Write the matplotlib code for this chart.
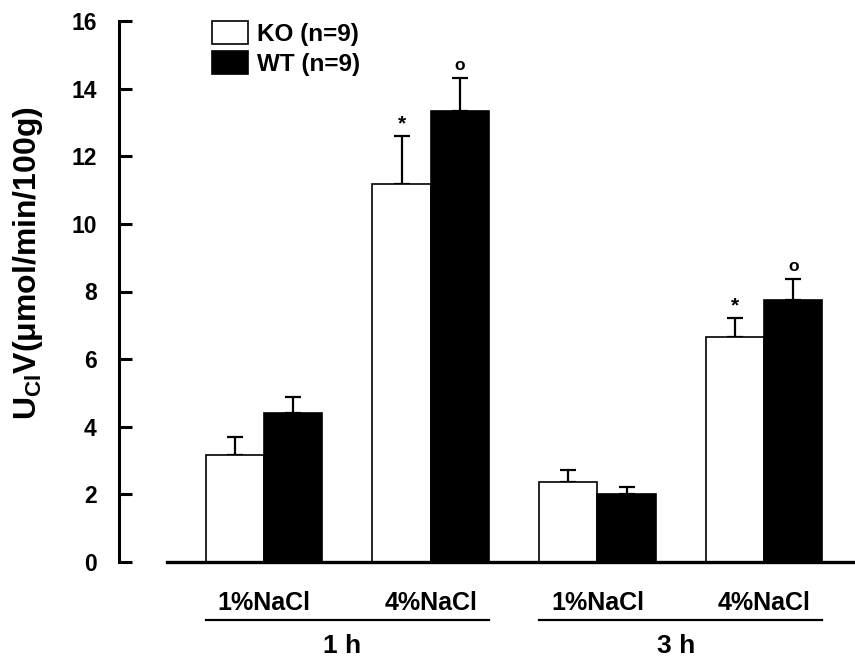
import matplotlib
matplotlib.use("Agg")
import matplotlib.pyplot as plt
from matplotlib.patches import Patch
import numpy as np

plt.rcParams['font.family'] = ['Liberation Sans', 'DejaVu Sans']
plt.rcParams['font.weight'] = 'bold'
plt.rcParams['mathtext.fontset'] = 'custom'
plt.rcParams['mathtext.rm'] = 'Liberation Sans:bold'
plt.rcParams['mathtext.bf'] = 'Liberation Sans:bold'

# ---- data ----
conditions = ['1%NaCl', '4%NaCl', '1%NaCl', '4%NaCl']
time_groups = ['1 h', '3 h']
ko_mean = [3.15, 11.17, 2.37, 6.64]
ko_err = [0.56, 1.42, 0.35, 0.57]
wt_mean = [4.40, 13.34, 2.00, 7.75]
wt_err = [0.49, 0.97, 0.22, 0.61]
ko_marks = ['', '*', '', '*']
wt_marks = ['', 'o', '', 'o']
series_labels = ['KO (n=9)', 'WT (n=9)']

fig = plt.figure(figsize=(8.55, 6.59), dpi=100)
ax = fig.add_axes([119/855, (659-562)/659, (855-119)/855, (562-21)/659])

x = np.arange(len(conditions))
w = 0.35
ax.bar(x - w/2, ko_mean, w, color='white', edgecolor='black', linewidth=1.2, zorder=2)
ax.bar(x + w/2, wt_mean, w, color='black', edgecolor='black', linewidth=1.2, zorder=2)
ax.errorbar(x - w/2, ko_mean, yerr=[np.zeros(4), ko_err], fmt='none', ecolor='black',
            elinewidth=1.6, capsize=6, capthick=1.6, zorder=1)
ax.errorbar(x + w/2, wt_mean, yerr=[np.zeros(4), wt_err], fmt='none', ecolor='black',
            elinewidth=1.6, capsize=6, capthick=1.6, zorder=1)

for xi, m, e, s in zip(x - w/2, ko_mean, ko_err, ko_marks):
    if s:
        ax.annotate(s, (xi, m + e), xytext=(0, 2), textcoords='offset points',
                    ha='center', va='bottom', fontsize=15, fontweight='bold')
for xi, m, e, s in zip(x + w/2, wt_mean, wt_err, wt_marks):
    if s:
        ax.annotate(s, (xi, m + e), xytext=(0, 4), textcoords='offset points',
                    ha='center', va='bottom', fontsize=12.5, fontweight='bold')

ax.set_xlim(-0.87, 3.545)
ax.set_ylim(0, 16)
ax.set_yticks(np.arange(0, 17, 2))
ax.set_xticks(x)
ax.set_xticklabels(conditions, fontsize=18, fontweight='bold')
ax.tick_params(axis='x', length=0, pad=21)
ax.tick_params(axis='y', direction='in', length=9.5, width=2.2, pad=16, labelsize=16.5)
for lab in ax.get_yticklabels():
    lab.set_fontweight('bold')

for sp in ['top', 'right']:
    ax.spines[sp].set_visible(False)
ax.spines['left'].set_linewidth(2.2)
ax.spines['bottom'].set_linewidth(2.4)
ax.spines['bottom'].set_bounds(-0.58, 3.545)

# group underlines and time labels
trans = ax.get_xaxis_transform()
for gi, g in enumerate(time_groups):
    x0 = x[2*gi] - w
    x1 = x[2*gi + 1] + w
    ax.plot([x0, x1], [-0.107, -0.107], color='black', lw=1.6, transform=trans, clip_on=False)
    ax.text((x0 + x1) / 2 - 0.03, -0.155, g, transform=trans, ha='center', va='center',
            fontsize=19, fontweight='bold')

ax.set_ylabel(r'U$_{\mathrm{Cl}}$V(μmol/min/100g)', fontsize=23, fontweight='bold')
ax.yaxis.set_label_coords(-0.101, 0.553)

handles = [Patch(facecolor='white', edgecolor='black', linewidth=1.2),
           Patch(facecolor='black', edgecolor='black', linewidth=1.2)]
ax.legend(handles, series_labels, loc='upper left', bbox_to_anchor=(0.126, 1.0),
          frameon=False, borderpad=0, borderaxespad=0, handlelength=1.5, handleheight=1.1,
          labelspacing=0.2, handletextpad=0.35, prop={'size': 17.5, 'weight': 'bold'})

fig.savefig('out.png', dpi=100)
